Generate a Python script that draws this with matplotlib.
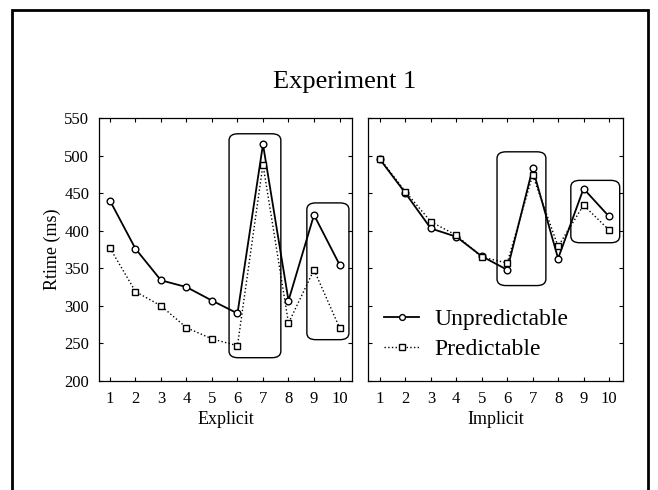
import matplotlib
matplotlib.use("Agg")
import matplotlib.pyplot as plt
from matplotlib.patches import FancyBboxPatch, Rectangle
from matplotlib.lines import Line2D

plt.rcParams['font.family'] = ['Liberation Serif', 'DejaVu Serif']

blocks = [1, 2, 3, 4, 5, 6, 7, 8, 9, 10]
explicit_unpred = [440, 376, 334, 325, 307, 290, 515, 307, 421, 355]
explicit_pred = [377, 319, 300, 271, 256, 247, 488, 277, 348, 271]
implicit_unpred = [495, 450, 403, 392, 366, 348, 483, 363, 456, 419]
implicit_pred = [496, 452, 412, 394, 365, 357, 474, 379, 434, 401]
yticks = [200, 250, 300, 350, 400, 450, 500, 550]
# highlight boxes: (x0, x1, y0, y1)
explicit_boxes = [(5.67, 7.7, 231, 529), (8.72, 10.37, 255, 437)]
implicit_boxes = [(5.6, 7.52, 327, 505), (8.5, 10.42, 384, 467)]

W, H = 658, 490
fig = plt.figure(figsize=(W / 100, H / 100), dpi=100)

def ax_rect(x0, x1, ytop, ybot):
    return [x0 / W, 1 - ybot / H, (x1 - x0) / W, (ybot - ytop) / H]

ax1 = fig.add_axes(ax_rect(99, 352, 118, 381))
ax2 = fig.add_axes(ax_rect(368, 623, 118, 381))

MS = 4.8

def draw(ax, unpred, pred, boxes, xl):
    ax.plot(blocks, unpred, '-', color='black', lw=1.3, marker='o', ms=MS,
            mfc='white', mec='black', mew=1.0, zorder=3)
    ax.plot(blocks, pred, ':', color='black', lw=1.0, marker='s', ms=MS,
            mfc='white', mec='black', mew=1.0, zorder=3)
    ax.set_xlim(*xl)
    ax.set_ylim(200, 550)
    ax.set_xticks(blocks)
    ax.set_yticks(yticks)
    ax.tick_params(direction='in', length=3, width=0.8, labelsize=12,
                   top=True, right=True, pad=7)
    for s in ax.spines.values():
        s.set_linewidth(0.9)
    for (x0, x1, y0, y1) in boxes:
        p = FancyBboxPatch((x0, y0), x1 - x0, y1 - y0,
                           boxstyle="round,pad=0,rounding_size=0.35",
                           mutation_aspect=25, fill=False, ec='black', lw=1.0,
                           zorder=2)
        ax.add_patch(p)

draw(ax1, explicit_unpred, explicit_pred, explicit_boxes, (0.57, 10.49))
draw(ax2, implicit_unpred, implicit_pred, implicit_boxes, (0.53, 10.55))
ax2.set_yticklabels([])
ax1.set_ylabel('Rtime (ms)', fontsize=13, labelpad=2)
ax1.set_xlabel('Explicit', fontsize=13, labelpad=3)
ax2.set_xlabel('Implicit', fontsize=13, labelpad=3)

h1 = Line2D([], [], ls='-', color='black', lw=1.3, marker='o', ms=4.2,
            mfc='white', mec='black')
h2 = Line2D([], [], ls=':', color='black', lw=1.0, marker='s', ms=4.2,
            mfc='white', mec='black')
ax2.legend([h1, h2], ['Unpredictable', 'Predictable'], loc='upper left',
           bbox_to_anchor=(0.063, 0.276), frameon=False, fontsize=17,
           borderpad=0, borderaxespad=0,
           handlelength=1.5, handletextpad=0.64, labelspacing=0.37)

fig.text(345 / W, 1 - 82 / H, 'Experiment 1', ha='center', va='center',
         fontsize=19)

fig.patches.append(Rectangle((12 / W, -0.05), (648 - 12) / W, (1 - 10 / H) + 0.05,
                             transform=fig.transFigure, fill=False, ec='black',
                             lw=2.0))

fig.savefig('out.png', dpi=100)
